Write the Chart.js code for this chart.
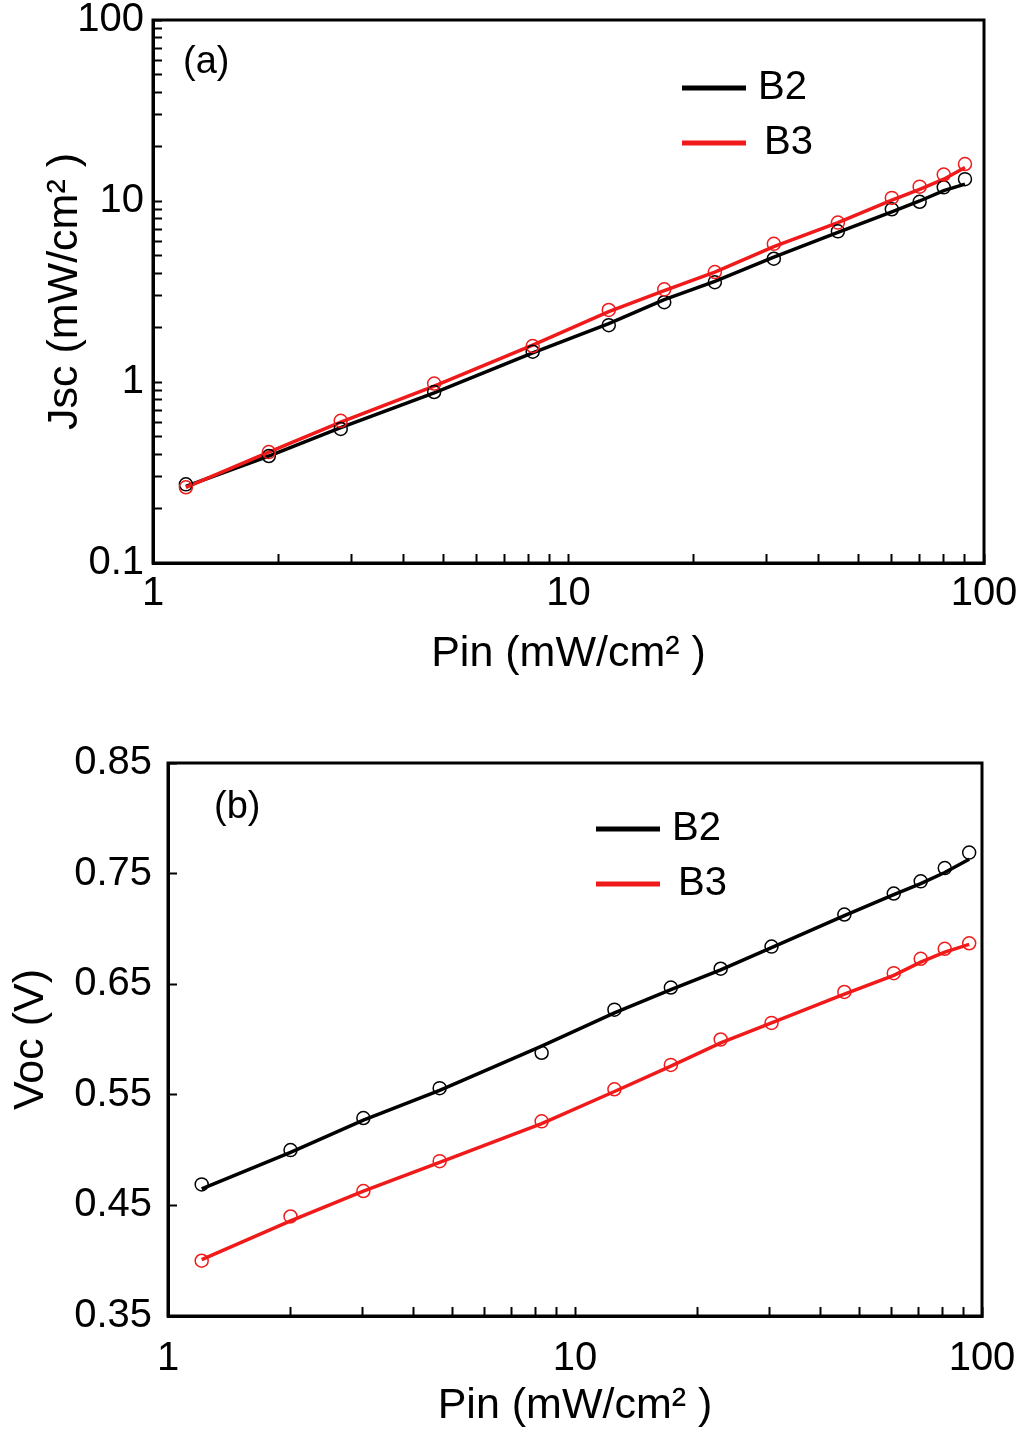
<!DOCTYPE html>
<html>
<head>
<meta charset="utf-8">
<title>Jsc and Voc vs Pin</title>
<script src="https://cdn.jsdelivr.net/npm/chart.js@4.4.1/dist/chart.umd.min.js"></script>
<style>
    body { margin: 0; background: #fff; }
    canvas { display: block; }
</style>
</head>
<body>
<canvas id="chartA" width="1025" height="700"></canvas>
<canvas id="chartB" width="1025" height="732"></canvas>
<script>
// (a) Jsc vs Pin, log-log
const pinA = [1.2, 1.9, 2.83, 4.75, 8.2, 12.5, 17, 22.5, 31.2, 44.5, 60, 70, 80, 90];
const jscB2Points = [0.272, 0.39, 0.55, 0.88, 1.47, 2.06, 2.76, 3.56, 4.8, 6.8, 9.0, 9.9, 11.9, 13.2];
const jscB3Points = [0.262, 0.41, 0.61, 0.98, 1.58, 2.5, 3.25, 4.05, 5.8, 7.6, 10.4, 12.0, 14.0, 16.0];
const jscB2Line = [0.265, 0.39, 0.56, 0.87, 1.45, 2.1, 2.85, 3.6, 4.9, 6.7, 8.7, 10.0, 11.4, 12.4];
const jscB3Line = [0.262, 0.41, 0.6, 0.95, 1.6, 2.45, 3.2, 4.05, 5.6, 7.6, 10.1, 11.6, 13.2, 15.3];

// (b) Voc vs Pin, semi-log
const pinB = [1.21, 2.0, 3.02, 4.65, 8.28, 12.5, 17.2, 22.8, 30.4, 45.9, 60.7, 70.7, 81, 93];
const vocB2Points = [0.469, 0.500, 0.529, 0.556, 0.588, 0.627, 0.647, 0.664, 0.684, 0.713, 0.732, 0.743, 0.755, 0.769];
const vocB3Points = [0.400, 0.440, 0.463, 0.490, 0.526, 0.555, 0.577, 0.600, 0.615, 0.643, 0.660, 0.673, 0.682, 0.687];
const vocB2Line = [0.465, 0.498, 0.527, 0.554, 0.594, 0.624, 0.645, 0.663, 0.683, 0.712, 0.731, 0.741, 0.751, 0.763];
const vocB3Line = [0.401, 0.436, 0.463, 0.489, 0.524, 0.553, 0.576, 0.597, 0.615, 0.641, 0.658, 0.670, 0.679, 0.686];

// tick labels
const pinTickLabels = [1, 10, 100];
const jscTickLabels = [0.1, 1, 10, 100];
const vocTickLabels = [0.35, 0.45, 0.55, 0.65, 0.75, 0.85];

const BLACK = '#000000';
const RED = '#f01a1a';
const FONT = '"Liberation Sans", Arial, sans-serif';

Chart.defaults.font.family = FONT;
Chart.defaults.color = '#000';

// decades plus the 2..9 minor ticks in between
function logTicks(decades) {
    const out = [];
    decades.forEach(function (d, i) {
        out.push(d);
        if (i < decades.length - 1) {
            for (let m = 2; m <= 9; m++) out.push(d * m);
        }
    });
    return out;
}

function toXY(xs, ys) {
    return xs.map((x, i) => ({ x: x, y: ys[i] }));
}

function lineSet(label, xs, ys, color, order) {
    return {
        label: label, inLegend: true, data: toXY(xs, ys), showLine: true,
        borderColor: color, borderWidth: 3.5, pointRadius: 0, tension: 0, order: order
    };
}

function markerSet(label, xs, ys, color, order) {
    return {
        label: label, data: toXY(xs, ys), showLine: false,
        pointStyle: 'circle', pointRadius: 6.5, pointBorderWidth: 1.5,
        pointBorderColor: color, pointBackgroundColor: 'rgba(0,0,0,0)', order: order
    };
}

const tickGrid = { drawOnChartArea: false, tickLength: -9, tickWidth: 2, tickColor: BLACK };
const axisBorder = { color: BLACK, width: 3 };

// frame, panel tag and the in-plot legend
const notesPlugin = {
    id: 'notes',
    afterDatasetsDraw(chart, args, opts) {
        const ctx = chart.ctx;
        const a = chart.chartArea;
        ctx.save();
        ctx.strokeStyle = BLACK;
        ctx.lineWidth = 3;
        ctx.strokeRect(a.left, a.top, a.right - a.left, a.bottom - a.top);

        ctx.fillStyle = BLACK;
        ctx.textAlign = 'left';
        ctx.textBaseline = 'middle';
        ctx.font = '38px ' + FONT;
        ctx.fillText(opts.tag, a.left + opts.tagX, a.top + opts.tagY);

        ctx.font = '40px ' + FONT;
        chart.data.datasets.filter(ds => ds.inLegend).forEach(function (ds, i) {
            const x = a.left + opts.legendX;
            const y = a.top + opts.legendY + i * opts.legendGap;
            ctx.strokeStyle = ds.borderColor;
            ctx.lineWidth = 5;
            ctx.beginPath();
            ctx.moveTo(x, y);
            ctx.lineTo(x + 64, y);
            ctx.stroke();
            ctx.fillText(ds.label, x + 76 + i * 6, y);
        });
        ctx.restore();
    }
};

new Chart(document.getElementById('chartA'), {
    type: 'scatter',
    data: {
        datasets: [
            lineSet('B2', pinA, jscB2Line, BLACK, 3),
            lineSet('B3', pinA, jscB3Line, RED, 2),
            markerSet('B2 data', pinA, jscB2Points, BLACK, 1),
            markerSet('B3 data', pinA, jscB3Points, RED, 0)
        ]
    },
    options: {
        responsive: false,
        animation: false,
        events: [],
        layout: { padding: { top: 20, right: 41, left: 0, bottom: 0 } },
        plugins: {
            legend: { display: false },
            tooltip: { enabled: false },
            notes: { tag: '(a)', tagX: 30, tagY: 43, legendX: 529, legendY: 68, legendGap: 55 }
        },
        scales: {
            x: {
                type: 'logarithmic', min: 1, max: 100,
                afterBuildTicks: s => { s.ticks = logTicks(pinTickLabels).map(v => ({ value: v })); },
                afterFit: s => { s.height = 137; s.paddingLeft = 0; s.paddingRight = 0; },
                grid: tickGrid,
                border: axisBorder,
                ticks: {
                    autoSkip: false, maxRotation: 0, padding: 16, font: { size: 40 },
                    callback: v => pinTickLabels.includes(v) ? String(v) : ''
                },
                title: { display: true, text: 'Pin (mW/cm² )', font: { size: 43 }, padding: { top: 0, bottom: 20 } }
            },
            y: {
                type: 'logarithmic', min: 0.1, max: 100,
                afterBuildTicks: s => { s.ticks = logTicks(jscTickLabels).map(v => ({ value: v })); },
                afterFit: s => { s.width = 153; s.paddingTop = 0; s.paddingBottom = 0; },
                grid: tickGrid,
                border: axisBorder,
                ticks: {
                    autoSkip: false, padding: 18, font: { size: 40 },
                    callback: v => jscTickLabels.includes(v) ? String(v) : ''
                },
                title: { display: true, text: 'Jsc (mW/cm² )', font: { size: 43 }, padding: { top: 39, bottom: 0 } }
            }
        }
    },
    plugins: [notesPlugin]
});

new Chart(document.getElementById('chartB'), {
    type: 'scatter',
    data: {
        datasets: [
            lineSet('B2', pinB, vocB2Line, BLACK, 3),
            lineSet('B3', pinB, vocB3Line, RED, 2),
            markerSet('B2 data', pinB, vocB2Points, BLACK, 1),
            markerSet('B3 data', pinB, vocB3Points, RED, 0)
        ]
    },
    options: {
        responsive: false,
        animation: false,
        events: [],
        layout: { padding: { top: 63, right: 43, left: 0, bottom: 0 } },
        plugins: {
            legend: { display: false },
            tooltip: { enabled: false },
            notes: { tag: '(b)', tagX: 46, tagY: 45, legendX: 428, legendY: 66, legendGap: 55 }
        },
        scales: {
            x: {
                type: 'logarithmic', min: 1, max: 100,
                afterBuildTicks: s => { s.ticks = logTicks(pinTickLabels).map(v => ({ value: v })); },
                afterFit: s => { s.height = 116; s.paddingLeft = 0; s.paddingRight = 0; },
                grid: tickGrid,
                border: axisBorder,
                ticks: {
                    autoSkip: false, maxRotation: 0, padding: 28, font: { size: 40 },
                    callback: v => pinTickLabels.includes(v) ? String(v) : ''
                },
                title: { display: true, text: 'Pin (mW/cm² )', font: { size: 43 }, padding: { top: 0, bottom: 0 } }
            },
            y: {
                type: 'linear', min: 0.35, max: 0.85,
                afterBuildTicks: s => { s.ticks = vocTickLabels.map(v => ({ value: v })); },
                afterFit: s => { s.width = 168; s.paddingTop = 0; s.paddingBottom = 0; },
                grid: tickGrid,
                border: axisBorder,
                ticks: {
                    autoSkip: false, padding: 25, font: { size: 40 },
                    callback: v => v.toFixed(2)
                },
                title: { display: true, text: 'Voc (V)', font: { size: 43 }, padding: { top: 5, bottom: 0 } }
            }
        }
    },
    plugins: [notesPlugin]
});
</script>
</body>
</html>
